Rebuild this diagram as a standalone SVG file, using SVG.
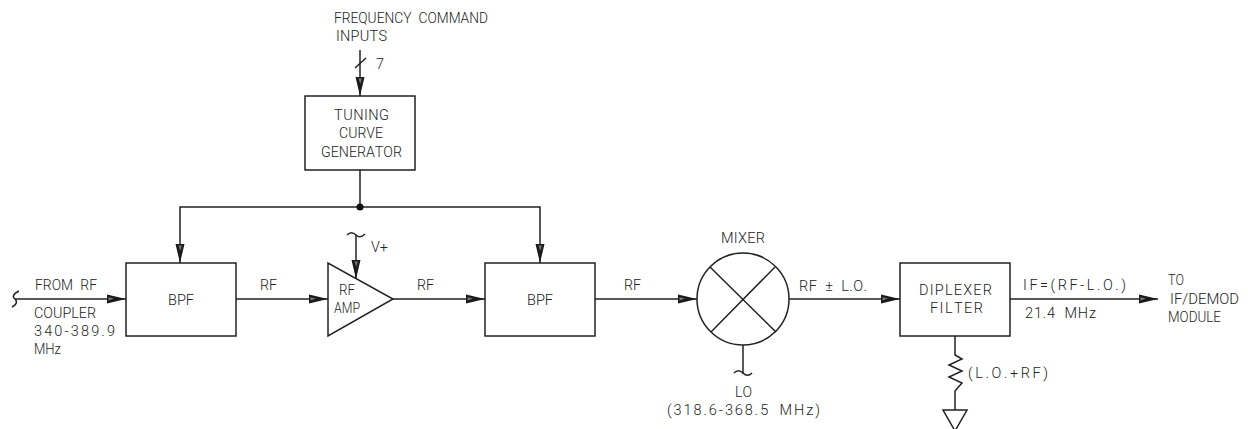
<svg xmlns="http://www.w3.org/2000/svg" width="1248" height="429" viewBox="0 0 1248 429">
<style>
text{font-family:Roboto,"Liberation Sans",Arial,sans-serif;font-weight:300;font-size:14.5px;fill:#222;font-kerning:none;word-spacing:4px}
.s{fill:#fff;stroke:#222;stroke-width:1.5}
.c{fill:none;stroke:#222;stroke-width:1.5}
.a{marker-end:url(#arr)}
</style>
<defs>
<marker id="arr" markerUnits="userSpaceOnUse" markerWidth="22" markerHeight="12" refX="20" refY="6" orient="auto">
<polygon points="1,1.5 20,6 1,10.5" fill="#1a1a1a"/>
<polygon points="2.5,4.2 8,5.6 2.5,7.6" fill="#777"/>
</marker>
</defs>
<rect width="1248" height="429" fill="#fff"/>
<g id="connectors">
<path class="c a" d="M360 50V96"/><path class="c" d="M355 68L366 58"/>
<path class="c" d="M360 170V207"/>
<path class="c a" d="M360 207H180V263"/>
<path class="c a" d="M360 207H540V263"/>
<circle cx="360" cy="207" r="3.5" fill="#111"/>
<path class="c a" d="M15 299H126"/>
<path class="c" d="M19 291C13 294 12 297 15 299C18 302 16 305 12 307"/>
<path class="c a" d="M236 299H328"/>
<path class="c a" d="M356 235V279"/>
<path class="c" d="M347 235C351 231 354 233 356 235C359 238 362 237 365 234"/>
<path class="c a" d="M393 299H485"/>
<path class="c a" d="M595 299H697"/>
<path class="c" d="M743 345V374"/>
<path class="c" d="M734 373C738 369 741 371 743 373C746 376 749 376 752 373"/>
<path class="c a" d="M789 299H900"/>
<path class="c a" d="M1010 299H1158"/>
<path class="c" d="M955 336V355L962 359L949 365L962 371L949 377L962 383L955 391V410"/>
<path class="c" d="M943 410H967L955 431Z"/>
</g>
<g id="bpf1"><rect class="s" x="126" y="263" width="110" height="73"/><text x="168" y="305" textLength="26" lengthAdjust="spacingAndGlyphs">BPF</text></g>
<g id="amp"><polygon class="s" points="328,263 328,336 393,299"/><text x="339" y="295" textLength="16" lengthAdjust="spacingAndGlyphs">RF</text><text x="334" y="313" textLength="26" lengthAdjust="spacingAndGlyphs">AMP</text></g>
<g id="bpf2"><rect class="s" x="485" y="263" width="110" height="73"/><text x="527" y="305" textLength="26" lengthAdjust="spacingAndGlyphs">BPF</text></g>
<g id="tuning"><rect class="s" x="305" y="96" width="110" height="74"/><text x="334" y="120" textLength="55">TUNING</text><text x="339" y="138" textLength="44" lengthAdjust="spacingAndGlyphs">CURVE</text><text x="321" y="157" textLength="81" lengthAdjust="spacingAndGlyphs">GENERATOR</text></g>
<g id="mixer"><circle class="s" cx="743" cy="299" r="46"/><path class="c" d="M710 267L776 332M775 267L711 332"/><text x="721" y="243" textLength="44">MIXER</text></g>
<g id="diplexer"><rect class="s" x="900" y="263" width="110" height="73"/><text x="919" y="295" textLength="73">DIPLEXER</text><text x="930" y="313" textLength="53">FILTER</text></g>
<g id="labels">
<text x="334" y="23" textLength="154" lengthAdjust="spacingAndGlyphs">FREQUENCY COMMAND</text>
<text x="336" y="41" textLength="51">INPUTS</text>
<text x="376" y="69">7</text>
<text x="35" y="290" textLength="62" lengthAdjust="spacingAndGlyphs">FROM RF</text>
<text x="34" y="318" textLength="62" lengthAdjust="spacingAndGlyphs">COUPLER</text>
<text x="34" y="336" textLength="81">340-389.9</text>
<text x="34" y="354" textLength="27" lengthAdjust="spacingAndGlyphs">MHz</text>
<text x="260" y="290" textLength="17" lengthAdjust="spacingAndGlyphs">RF</text>
<text x="371" y="252" textLength="17" lengthAdjust="spacingAndGlyphs">V+</text>
<text x="417" y="290" textLength="17" lengthAdjust="spacingAndGlyphs">RF</text>
<text x="624" y="290" textLength="17" lengthAdjust="spacingAndGlyphs">RF</text>
<text x="799" y="291" textLength="68">RF ± L.O.</text>
<text x="735" y="397" textLength="17" lengthAdjust="spacingAndGlyphs">LO</text>
<text x="667" y="415" textLength="153">(318.6-368.5 MHz)</text>
<text x="1023" y="290" textLength="103">IF=(RF-L.O.)</text>
<text x="1025" y="318" textLength="71">21.4 MHz</text>
<text x="1168" y="285" textLength="16" lengthAdjust="spacingAndGlyphs">TO</text>
<text x="1170" y="304" textLength="69" lengthAdjust="spacingAndGlyphs">IF/DEMOD</text>
<text x="1168" y="322" textLength="53" lengthAdjust="spacingAndGlyphs">MODULE</text>
<text x="968" y="378" textLength="80">(L.O.+RF)</text>
</g>
</svg>
